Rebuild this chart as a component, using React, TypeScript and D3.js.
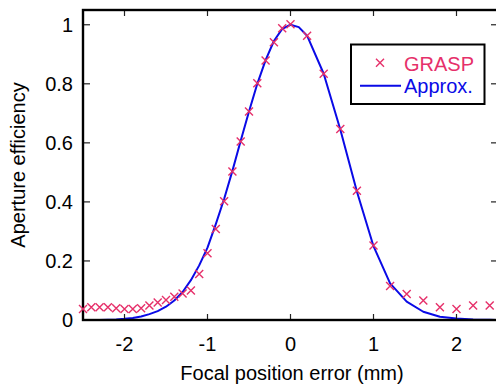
import React from "react";
import * as d3 from "d3";

const graspX = [
  -2.5, -2.4, -2.3, -2.2, -2.1, -2.0, -1.9, -1.8, -1.7, -1.6, -1.5, -1.4, -1.3,
  -1.2, -1.1, -1.0, -0.9, -0.8, -0.7, -0.6, -0.5, -0.4, -0.3, -0.2, -0.1, 0.0,
  0.2, 0.4, 0.6, 0.8, 1.0, 1.2, 1.4, 1.6, 1.8, 2.0, 2.2, 2.4,
];
const graspY = [
  0.037, 0.043, 0.043, 0.043, 0.04, 0.037, 0.037, 0.04, 0.049, 0.059, 0.068,
  0.079, 0.09, 0.1, 0.156, 0.226, 0.308, 0.402, 0.503, 0.605, 0.706, 0.802,
  0.879, 0.941, 0.988, 1.002, 0.963, 0.834, 0.647, 0.438, 0.252, 0.115, 0.088,
  0.066, 0.043, 0.037, 0.049, 0.049,
];

const approxX = [
  -2.5, -2.4, -2.3, -2.2, -2.1, -2.0, -1.9, -1.8, -1.7, -1.6, -1.5, -1.4, -1.3,
  -1.2, -1.1, -1.0, -0.9, -0.8, -0.7, -0.6, -0.5, -0.4, -0.3, -0.2, -0.1, 0.0,
  0.1, 0.2, 0.4, 0.6, 0.8, 1.0, 1.2, 1.4, 1.6, 1.8, 2.0, 2.2, 2.4, 2.5,
];
const approxY = [
  0, 0, 0, 0.001, 0.002, 0.004, 0.007, 0.012, 0.02, 0.03, 0.045, 0.066, 0.095,
  0.135, 0.185, 0.245, 0.325, 0.41, 0.505, 0.607, 0.706, 0.8, 0.88, 0.945,
  0.986, 1.0, 0.992, 0.963, 0.834, 0.645, 0.435, 0.25, 0.124, 0.062, 0.028,
  0.011, 0.005, 0.002, 0.001, 0,
];

const xTicks = [-2, -1, 0, 1, 2];
const yTicks = [0, 0.2, 0.4, 0.6, 0.8, 1];
const xLabel = "Focal position error (mm)";
const yLabel = "Aperture efficiency";
const seriesNames = ["GRASP", "Approx."];

const W = 496;
const H = 385;
const RED = "#e6306a";
const BLUE = "#0a0ae6";
const FONT = "'Liberation Sans', Arial, sans-serif";

export default function App() {
  const x = d3.scaleLinear().domain([-2.5, 2.5]).range([83, 498]);
  const y = d3.scaleLinear().domain([0, 1.05]).range([320, 10]);
  const left = x(-2.5);
  const right = x(2.5);
  const top = y(1.05);
  const bottom = y(0);

  const line = d3
    .line<number>()
    .x((_, i) => x(approxX[i]))
    .y((d) => y(d));

  const cross = (cx: number, cy: number, r: number, key?: any) => (
    <path
      key={key}
      d={`M${cx - r},${cy - r}L${cx + r},${cy + r}M${cx - r},${cy + r}L${cx + r},${cy - r}`}
      stroke={RED}
      strokeWidth={1.4}
      fill="none"
    />
  );

  return (
    <svg
      width={W}
      height={H}
      style={{ position: "absolute", left: 0, top: 0, background: "#fff" }}
      fontFamily={FONT}
    >
      <rect x={0} y={0} width={W} height={H} fill="#fff" />
      {/* approx curve */}
      <path d={line(approxY) || ""} fill="none" stroke={BLUE} strokeWidth={2} strokeLinejoin="round" />

      {/* ticks */}
      {xTicks.map((t) => (
        <g key={"xt" + t}>
          <line x1={x(t)} x2={x(t)} y1={bottom} y2={bottom - 6} stroke="#222" strokeWidth={1.2} />
          <line x1={x(t)} x2={x(t)} y1={top} y2={top + 6} stroke="#222" strokeWidth={1.2} />
          <text x={x(t)} y={350.5} textAnchor="middle" fontSize={20} fill="#000">
            {t}
          </text>
        </g>
      ))}
      {yTicks.map((t) => (
        <g key={"yt" + t}>
          <line x1={left} x2={left + 7} y1={y(t)} y2={y(t)} stroke="#222" strokeWidth={1.2} />
          <line x1={right} x2={right - 7} y1={y(t)} y2={y(t)} stroke="#222" strokeWidth={1.2} />
          <text x={73} y={y(t) + 7} textAnchor="end" fontSize={20} fill="#000">
            {t}
          </text>
        </g>
      ))}

      {/* frame */}
      <rect x={left} y={top} width={right - left} height={bottom - top} fill="none" stroke="#000" strokeWidth={2.4} />

      {/* crosses */}
      {graspY.map((v, i) => cross(x(graspX[i]), y(v), 4, i))}

      {/* axis labels */}
      <text x={292} y={380} textAnchor="middle" fontSize={20} fill="#000">
        {xLabel}
      </text>
      <text
        transform={`translate(25,165) rotate(-90)`}
        textAnchor="middle"
        fontSize={20}
        fill="#000"
      >
        {yLabel}
      </text>

      {/* legend */}
      <rect x={351} y={44.5} width={133.5} height={59.5} fill="#fff" stroke="#000" strokeWidth={2} />
      {cross(380, 62.7, 4)}
      <text x={404} y={70.7} fontSize={20} fill={RED}>
        {seriesNames[0]}
      </text>
      <line x1={360} x2={401} y1={85.7} y2={85.7} stroke={BLUE} strokeWidth={2} />
      <text x={404} y={92.5} fontSize={20} fill={BLUE}>
        {seriesNames[1]}
      </text>
    </svg>
  );
}
